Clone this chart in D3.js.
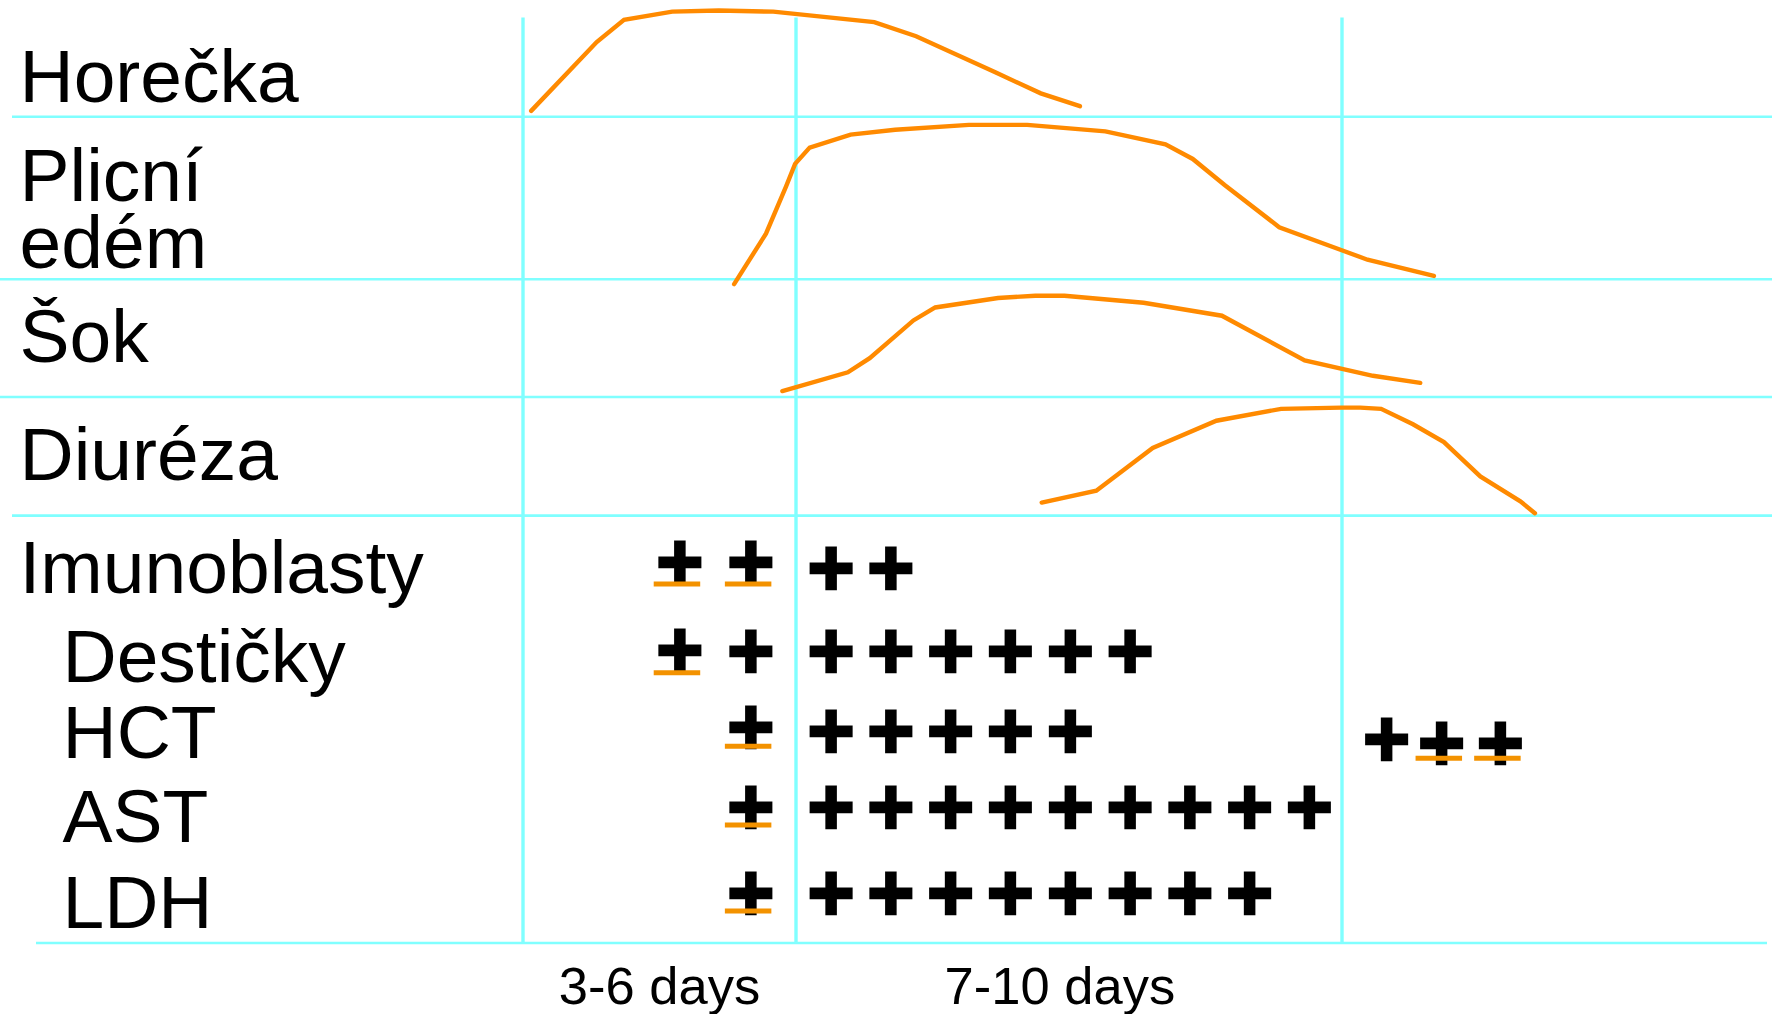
<!DOCTYPE html>
<html>
<head>
<meta charset="utf-8">
<script src="https://cdn.jsdelivr.net/npm/d3@7"></script>
<style>
  html, body { margin: 0; padding: 0; background: #ffffff; }
  svg { display: block; }
</style>
</head>
<body>
<svg id="chart" width="1776" height="1014"></svg>
<script>
// ---------------------------------------------------------------------------
// Clinical course: one curve per row. t = time on the phase axis,
// level = intensity as a share of the row height (0 = row floor, 1 = row top).
// ---------------------------------------------------------------------------
const courseRows = ["Horečka", "Plicní edém", "Šok", "Diuréza"];
const courseLabelLines = [["Horečka"], ["Plicní", "edém"], ["Šok"], ["Diuréza"]];

const horeckaT     = [0.09, 0.81, 1.11, 1.64, 2.15, 2.75, 3.86, 4.32, 5.19, 5.69, 6.12];
const horeckaLevel = [0.05, 0.64, 0.83, 0.90, 0.91, 0.90, 0.81, 0.69, 0.38, 0.20, 0.09];

const edemT     = [2.32, 2.67, 2.89, 2.99, 3.15, 3.60, 4.09, 4.90, 5.54, 6.40, 7.06, 7.36, 7.71, 8.31, 8.99, 9.28, 10.01];
const edemLevel = [-0.03, 0.28, 0.57, 0.71, 0.81, 0.89, 0.92, 0.95, 0.95, 0.91, 0.83, 0.74, 0.58, 0.32, 0.18, 0.12, 0.02];

const sokT     = [2.85, 3.57, 3.81, 4.29, 4.53, 5.22, 5.63, 5.95, 6.82, 7.68, 8.59, 9.34, 9.86];
const sokLevel = [0.05, 0.21, 0.33, 0.65, 0.76, 0.84, 0.86, 0.86, 0.80, 0.69, 0.31, 0.18, 0.12];

const diurezaT     = [5.70, 6.30, 6.92, 7.62, 8.33, 8.99, 9.20, 9.43, 9.78, 10.12, 10.52, 10.96, 11.12];
const diurezaLevel = [0.11, 0.21, 0.57, 0.80, 0.90, 0.91, 0.91, 0.90, 0.77, 0.62, 0.33, 0.12, 0.02];

const courseT     = [horeckaT, edemT, sokT, diurezaT];
const courseLevel = [horeckaLevel, edemLevel, sokLevel, diurezaLevel];

// Phase boundaries on the time axis and the phase captions under them
const phaseEdges  = [0, 3, 9];
const phaseLabels = ["3-6 days", "7-10 days"];
const phaseLabelT = [1.5, 5.9];

// ---------------------------------------------------------------------------
// Laboratory findings: "+" marks, "±" marks (plus with an orange bar).
// Positions are given in mark slots (slot 0 = first mark after the middle rule).
// ---------------------------------------------------------------------------
const labRows      = ["Imunoblasty", "Destičky", "HCT", "AST", "LDH"];
const labEarly     = [["±", "±"], ["±", "+"], ["", "±"], ["", "±"], ["", "±"]];
const labPlusCount = [2, 6, 5, 9, 8];
const labLate      = [[], [], ["+", "±", "±"], [], []];
const earlySlots   = [-2.53, -1.34];
const lateSlots    = [9.29, 10.21, 11.19];

// ---------------------------------------------------------------------------
// Layout
// ---------------------------------------------------------------------------
const font = '"Liberation Sans", Arial, Helvetica, sans-serif';
const gridColor = "#80FFFF";
const curveColor = "#FF8A00";
const barColor = "#F39200";

const x = d3.scaleLinear().domain([0, 9]).range([523, 1342]);
const slot = d3.scaleLinear().domain([0, 8]).range([831, 1309.4]);

const rowEdges = [0, 116.7, 279.2, 397, 515.6];
const ruleStarts = [12, 0, 0, 12];
const ruleEnd = 1772;
const gridTop = 17.5;
const panelBottom = 943;

const labelSize = 75;
const labelX = 19.5;
const courseLabelY = [[101.7], [200.5, 268.3], [361.7], [480]];
const labLabelX = [19.5, 62.5, 62.5, 62.5, 62.5];
const labLabelY = [592.7, 681.7, 758.3, 841.7, 928.3];

const labPlusY  = [569, 652, 731.3, 808, 894];
const labPmY    = [563, 651, 727.5, 808, 894];
const labBarY   = [584, 672.7, 746.3, 825, 911];
const latePlusY = 740, latePmY = 743.8, lateBarY = 758.3;

// plus glyph: wanted ink width and bar thickness, and limits that keep
// neighbouring glyph boxes apart
const plusInk = 43, plusThick = 11.5, plusMaxBox = 73.5, plusMaxAdvance = 57;

const svg = d3.select("#chart");

// ---------------------------------------------------------------------------
// Grid: horizontal row rules and vertical phase rules
// ---------------------------------------------------------------------------
const grid = svg.append("g").attr("stroke", gridColor).attr("fill", "none");

grid.selectAll("line.row-rule")
  .data(rowEdges.slice(1))
  .join("line")
  .attr("class", "row-rule")
  .attr("x1", (d, i) => ruleStarts[i])
  .attr("x2", ruleEnd)
  .attr("y1", d => d)
  .attr("y2", d => d)
  .attr("stroke-width", 2.6);

grid.append("line")
  .attr("x1", 36).attr("x2", 1767)
  .attr("y1", panelBottom).attr("y2", panelBottom)
  .attr("stroke-width", 2.6);

grid.selectAll("line.phase-rule")
  .data(phaseEdges)
  .join("line")
  .attr("class", "phase-rule")
  .attr("x1", d => x(d)).attr("x2", d => x(d))
  .attr("y1", gridTop).attr("y2", panelBottom + 1)
  .attr("stroke-width", 3.4);

// ---------------------------------------------------------------------------
// Course curves
// ---------------------------------------------------------------------------
const curves = svg.append("g")
  .attr("fill", "none")
  .attr("stroke", curveColor)
  .attr("stroke-width", 4.4)
  .attr("stroke-linecap", "round")
  .attr("stroke-linejoin", "miter");

courseRows.forEach((name, i) => {
  const y = d3.scaleLinear().domain([0, 1]).range([rowEdges[i + 1], rowEdges[i]]);
  const pts = courseT[i].map((t, k) => ({ t, level: courseLevel[i][k] }));
  curves.append("path")
    .datum(pts)
    .attr("d", d3.line().x(d => x(d.t)).y(d => y(d.level)));
});

// ---------------------------------------------------------------------------
// Row labels (a two-line label is one text with two lines)
// ---------------------------------------------------------------------------
const labels = svg.append("g")
  .attr("font-family", font)
  .attr("font-size", labelSize)
  .attr("fill", "#000");

courseLabelLines.forEach((lines, i) => {
  const t = labels.append("text")
    .attr("x", labelX)
    .attr("y", courseLabelY[i][0]);
  lines.forEach((txt, k) => {
    t.append("tspan")
      .attr("x", labelX)
      .attr("y", courseLabelY[i][k])
      .text(txt);
  });
});

labels.selectAll("text.lab")
  .data(labRows)
  .join("text")
  .attr("class", "lab")
  .attr("x", (d, i) => labLabelX[i])
  .attr("y", (d, i) => labLabelY[i])
  .text(d => d);

// ---------------------------------------------------------------------------
// Plus marks as bold "+" text. Glyph metrics are measured on a canvas: the
// size keeps glyph boxes apart, and a stroke brings the ink to the wanted
// width and bar thickness.
// ---------------------------------------------------------------------------
function measurePlus(face) {
  const S = 200;
  const cv = document.createElement("canvas");
  cv.width = 360; cv.height = 360;
  const c = cv.getContext("2d");
  c.font = `bold ${S}px "${face}"`;
  const m = c.measureText("+");
  c.fillStyle = "#000";
  const ox = 60, oy = 260;
  c.fillText("+", ox, oy);
  const data = c.getImageData(0, 0, cv.width, cv.height).data;
  const on = (px, py) => data[(py * cv.width + px) * 4 + 3] > 127;
  let x0 = cv.width, x1 = -1, y0 = cv.height, y1 = -1;
  for (let py = 0; py < cv.height; py++) {
    for (let px = 0; px < cv.width; px++) {
      if (on(px, py)) {
        if (px < x0) x0 = px; if (px > x1) x1 = px;
        if (py < y0) y0 = py; if (py > y1) y1 = py;
      }
    }
  }
  if (x1 < 0) return null;
  const colX = Math.round(x0 + 0.12 * (x1 - x0));
  let hb = 0; for (let py = y0; py <= y1; py++) if (on(colX, py)) hb++;
  const rowY = Math.round(y0 + 0.12 * (y1 - y0));
  let vb = 0; for (let px = x0; px <= x1; px++) if (on(px, rowY)) vb++;
  return {
    face,
    ink: (x1 - x0 + 1) / S,
    bar: (hb + vb) / 2 / S,
    midAbove: (oy - (y0 + y1 + 1) / 2) / S,
    midX: ((x0 + x1 + 1) / 2 - ox) / S,
    box: ((m.fontBoundingBoxAscent || 0.93 * S) + (m.fontBoundingBoxDescent || 0.24 * S)) / S,
    adv: m.width / S
  };
}

const faces = ["DejaVu Sans", "Liberation Sans", "Noto Sans", "Roboto", "Open Sans", "Lato", "Inter"];
let plus = null;
faces.forEach(face => {
  const g = measurePlus(face);
  if (!g || !(g.ink > 0)) return;
  let size = (plusInk - plusThick) / Math.max(g.ink - g.bar, 0.05);
  size = Math.min(size, plusMaxBox / g.box, plusMaxAdvance / g.adv);
  const stroke = Math.max(0, plusInk - g.ink * size);
  const cand = { ...g, size, stroke, glyphInk: g.ink * size };
  if (!plus || cand.glyphInk > plus.glyphInk + 0.5) plus = cand;
});
if (!plus) plus = { face: "Liberation Sans", size: 62, stroke: 4, midAbove: 0.34, midX: 0.29 };

const marks = svg.append("g");

function drawMark(kind, cx, plusY, pmY, barY) {
  const cy = kind === "±" ? pmY : plusY;
  marks.append("text")
    .attr("x", cx - plus.midX * plus.size)
    .attr("y", cy + plus.midAbove * plus.size)
    .attr("font-family", `"${plus.face}", ${font}`)
    .attr("font-weight", "bold")
    .attr("font-size", plus.size)
    .attr("fill", "#000")
    .attr("stroke", "#000")
    .attr("stroke-width", plus.stroke)
    .attr("stroke-linejoin", "miter")
    .text("+");
  if (kind === "±") {
    marks.append("line")
      .attr("x1", cx - 26).attr("x2", cx + 20.5)
      .attr("y1", barY).attr("y2", barY)
      .attr("stroke", barColor)
      .attr("stroke-width", 5);
  }
}

labRows.forEach((name, i) => {
  labEarly[i].forEach((kind, k) => {
    if (kind) drawMark(kind, slot(earlySlots[k]), labPlusY[i], labPmY[i], labBarY[i]);
  });
  d3.range(labPlusCount[i]).forEach(k => {
    drawMark("+", slot(k), labPlusY[i], labPmY[i], labBarY[i]);
  });
  labLate[i].forEach((kind, k) => {
    drawMark(kind, slot(lateSlots[k]), latePlusY, latePmY, lateBarY);
  });
});

// ---------------------------------------------------------------------------
// Phase captions
// ---------------------------------------------------------------------------
svg.append("g")
  .attr("font-family", font)
  .attr("font-size", 52.5)
  .attr("fill", "#000")
  .attr("text-anchor", "middle")
  .selectAll("text")
  .data(phaseLabels)
  .join("text")
  .attr("x", (d, i) => x(phaseLabelT[i]))
  .attr("y", 1004)
  .text(d => d);
</script>
</body>
</html>
